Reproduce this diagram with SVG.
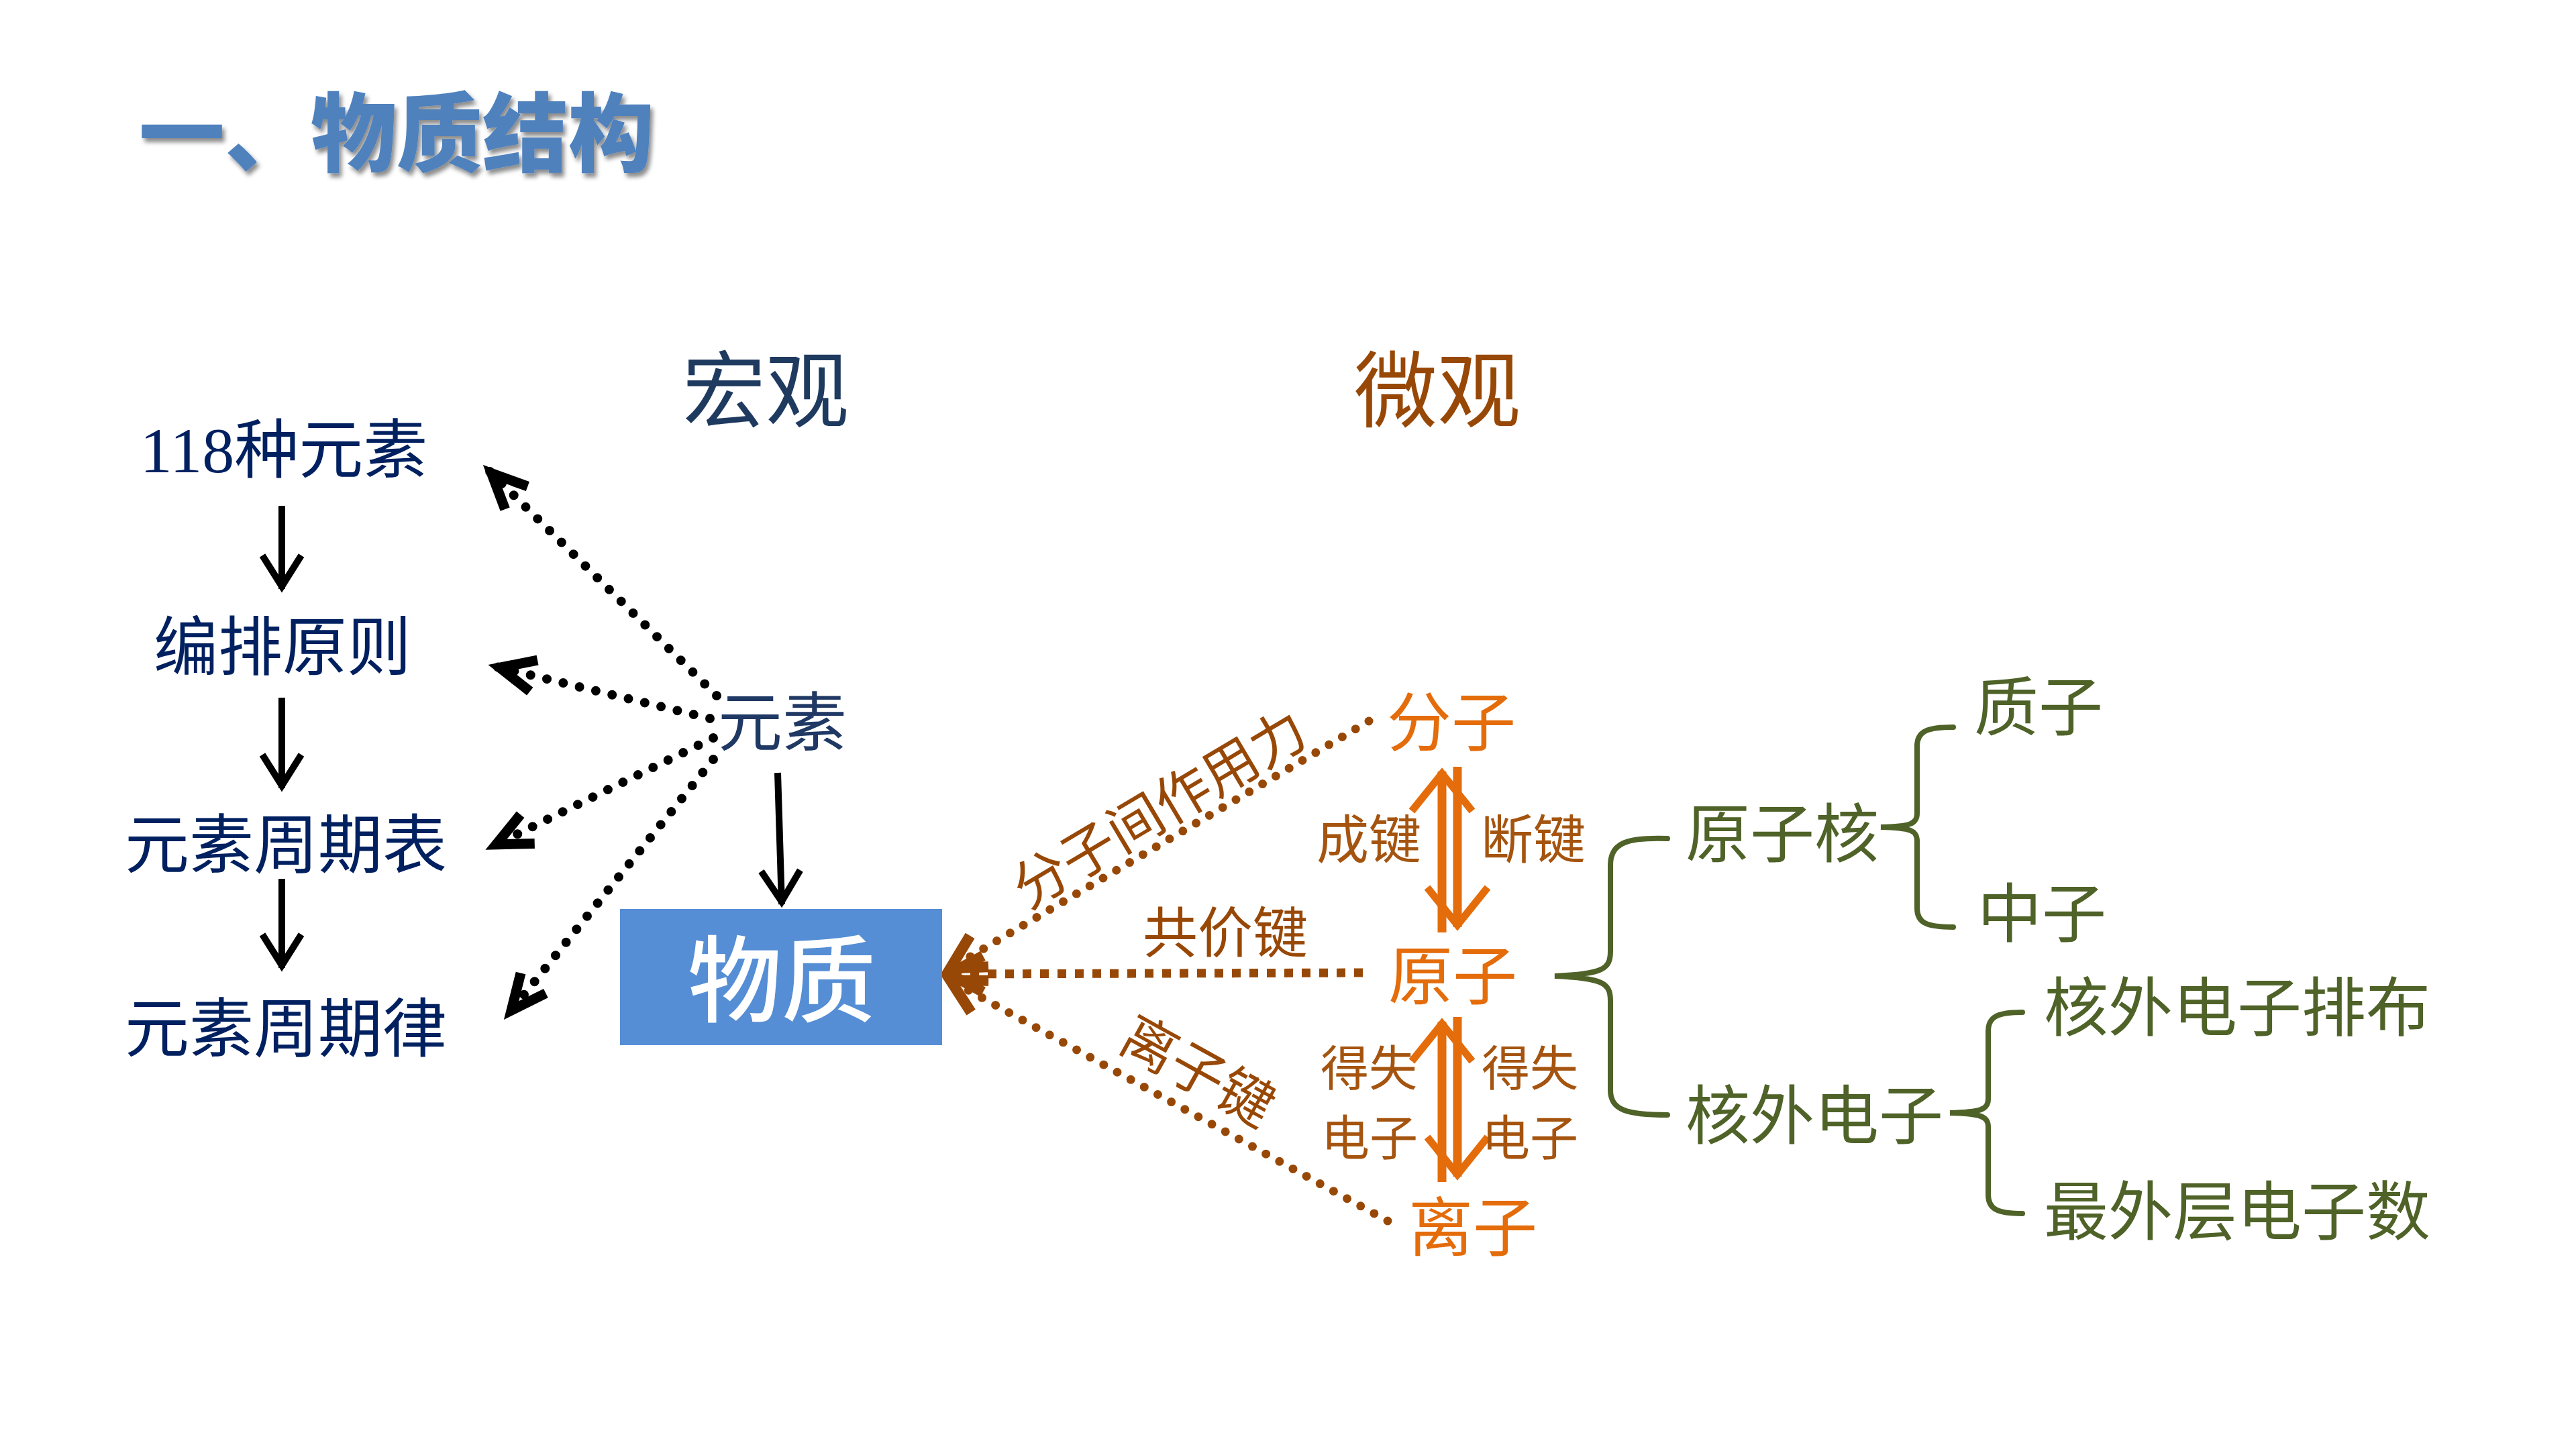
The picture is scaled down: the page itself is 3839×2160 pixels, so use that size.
<svg xmlns="http://www.w3.org/2000/svg" width="3839" height="2160" viewBox="0 0 3839 2160">
<style>
text{font-family:"Noto Sans CJK SC","Noto Sans",sans-serif}
.navy{fill:#002060;font-size:96px}
.head{font-size:124px}
.org{fill:#E46C0A;font-size:96px}
.brn{fill:#984806;font-size:82px}
.lbl{fill:#A5540F;font-size:78px}
.lbl2{fill:#A5540F;font-size:72px}
.grn{fill:#4F6228;font-size:96px}
.blk{stroke:#000;stroke-width:10;fill:none}
.bdot{stroke:#000;stroke-width:14;fill:none;stroke-dasharray:0 25;stroke-linecap:round}
.rdot{stroke:#984806;stroke-width:13;fill:none;stroke-dasharray:0 23;stroke-linecap:round}
.sdot{stroke:#984806;stroke-width:13;fill:none;stroke-dasharray:13 13}
.oar{stroke:#E46C0A;stroke-width:13;fill:none}
.brace{stroke:#4F6228;stroke-width:8;fill:none;stroke-linecap:round}
</style>
<defs>
<filter id="shadow" x="-10%" y="-20%" width="120%" height="150%">
<feDropShadow dx="4" dy="6" stdDeviation="3" flood-color="#000" flood-opacity="0.45"/>
</filter>
<marker id="ahB" markerUnits="userSpaceOnUse" orient="auto" overflow="visible" refX="4" refY="0" markerWidth="10" markerHeight="10">
<path d="M-46,-29 L0,0 L-46,29" fill="none" stroke="#000" stroke-width="10"/>
</marker>
<marker id="ahBD" markerUnits="userSpaceOnUse" orient="auto" overflow="visible" refX="5" refY="0" markerWidth="10" markerHeight="10">
<path d="M-52,-24 L0,0 L-52,24" fill="none" stroke="#000" stroke-width="15"/>
</marker>
<marker id="ahR" markerUnits="userSpaceOnUse" orient="auto" overflow="visible" refX="5" refY="0" markerWidth="10" markerHeight="10">
<path d="M-50,-27 L0,0 L-50,27" fill="none" stroke="#984806" stroke-width="16"/>
</marker>
<marker id="ahO" markerUnits="userSpaceOnUse" orient="auto" overflow="visible" refX="3" refY="0" markerWidth="10" markerHeight="10">
<path d="M-56,-45 L0,0 L-56,45" fill="none" stroke="#E46C0A" stroke-width="11"/>
</marker>
</defs>
<rect width="3839" height="2160" fill="#fff"/>

<g id="title">
<text x="207" y="246" font-size="128" font-weight="900" fill="#4F81BD" filter="url(#shadow)">一、物质结构</text>
</g>

<g id="connectors">
<!-- left column solid arrows -->
<line class="blk" x1="420" y1="754" x2="420" y2="878" marker-end="url(#ahB)"/>
<line class="blk" x1="420" y1="1040" x2="420" y2="1175" marker-end="url(#ahB)"/>
<line class="blk" x1="420" y1="1310" x2="420" y2="1443" marker-end="url(#ahB)"/>
<!-- 元素 to 物质 -->
<line class="blk" x1="1159" y1="1152" x2="1165" y2="1348" marker-end="url(#ahB)"/>
<!-- dotted from 元素 -->
<line class="bdot" x1="1068" y1="1037" x2="729" y2="702" marker-end="url(#ahBD)"/>
<line class="bdot" x1="1058" y1="1071" x2="740" y2="994" marker-end="url(#ahBD)"/>
<line class="bdot" x1="1063" y1="1100" x2="735" y2="1261" marker-end="url(#ahBD)"/>
<line class="bdot" x1="1063" y1="1132" x2="759" y2="1510" marker-end="url(#ahBD)"/>
<!-- brown dotted into 物质 -->
<line class="rdot" x1="2040" y1="1075" x2="1412" y2="1446" marker-end="url(#ahR)"/>
<line class="sdot" x1="2031" y1="1450" x2="1410" y2="1452" marker-end="url(#ahR)"/>
<line class="rdot" x1="2068" y1="1820" x2="1412" y2="1459" marker-end="url(#ahR)"/>
<!-- orange double arrows -->
<line class="oar" x1="2149" y1="1390" x2="2149" y2="1150" marker-end="url(#ahO)"/>
<line class="oar" x1="2172" y1="1143" x2="2172" y2="1382" marker-end="url(#ahO)"/>
<line class="oar" x1="2149" y1="1762" x2="2149" y2="1523" marker-end="url(#ahO)"/>
<line class="oar" x1="2172" y1="1516" x2="2172" y2="1754" marker-end="url(#ahO)"/>
<!-- green braces -->
<path class="brace" d="M2485,1250 C2425,1248 2400,1256 2400,1290 L2400,1418 C2400,1444 2390,1452 2317,1455 C2390,1458 2400,1466 2400,1492 L2400,1625 C2400,1655 2425,1662 2485,1662"/>
<path class="brace" d="M2911,1084 C2872,1084 2857,1090 2857,1112 L2857,1212 C2857,1228 2848,1232 2803,1233 C2848,1234 2857,1238 2857,1254 L2857,1354 C2857,1376 2872,1382 2911,1382"/>
<path class="brace" d="M3014,1509 C2978,1509 2963,1515 2963,1537 L2963,1638 C2963,1654 2952,1658 2906,1659 C2952,1660 2963,1664 2963,1680 L2963,1781 C2963,1803 2978,1809 3014,1809"/>
</g>

<g id="node-hongguan"><text class="head" x="1141" y="627" text-anchor="middle" fill="#1F3A5F">宏观</text></g>
<g id="node-weiguan"><text class="head" x="2142" y="627" text-anchor="middle" fill="#984806">微观</text></g>

<g id="node-118"><text class="navy" x="423" y="704" text-anchor="middle"><tspan font-family="Liberation Serif, serif">118</tspan>种元素</text></g>
<g id="node-bianpai"><text class="navy" x="421" y="998" text-anchor="middle">编排原则</text></g>
<g id="node-zhouqibiao"><text class="navy" x="426" y="1293" text-anchor="middle">元素周期表</text></g>
<g id="node-zhouqilv"><text class="navy" x="426" y="1567" text-anchor="middle">元素周期律</text></g>

<g id="node-yuansu"><text x="1166" y="1111" text-anchor="middle" font-size="96" fill="#1F3864">元素</text></g>

<g id="node-wuzhi">
<rect x="924" y="1355" width="480" height="203" fill="#558ED5"/>
<text x="1165" y="1512" text-anchor="middle" font-size="140" font-weight="500" fill="#fff">物质</text>
</g>

<g id="node-fenzi"><text class="org" x="2163" y="1111" text-anchor="middle">分子</text></g>
<g id="node-yuanzi"><text class="org" x="2165" y="1489" text-anchor="middle">原子</text></g>
<g id="node-lizi"><text class="org" x="2195" y="1864" text-anchor="middle">离子</text></g>

<g id="labels">
<text class="brn" transform="translate(1728,1206) rotate(-30.7)" x="0" y="29" text-anchor="middle">分子间作用力</text>
<text class="brn" x="1826" y="1420" text-anchor="middle" font-size="80">共价键</text>
<text class="brn" transform="translate(1785,1597) rotate(29)" x="0" y="29" text-anchor="middle">离子键</text>
<text class="lbl" x="2040" y="1280" text-anchor="middle">成键</text>
<text class="lbl" x="2285" y="1280" text-anchor="middle">断键</text>
<text class="lbl2" text-anchor="middle"><tspan x="2040" y="1618">得失</tspan><tspan x="2041" y="1722">电子</tspan></text>
<text class="lbl2" text-anchor="middle"><tspan x="2280" y="1618">得失</tspan><tspan x="2280" y="1722">电子</tspan></text>
</g>

<g id="node-yuanzihe"><text class="grn" x="2512" y="1277">原子核</text></g>
<g id="node-hewaidianzi"><text class="grn" x="2512" y="1697">核外电子</text></g>
<g id="node-zhizi"><text class="grn" x="2942" y="1088">质子</text></g>
<g id="node-zhongzi"><text class="grn" x="2947" y="1396">中子</text></g>
<g id="node-paibu"><text class="grn" x="3046" y="1536">核外电子排布</text></g>
<g id="node-zuiwaiceng"><text class="grn" x="3046" y="1840">最外层电子数</text></g>
</svg>
